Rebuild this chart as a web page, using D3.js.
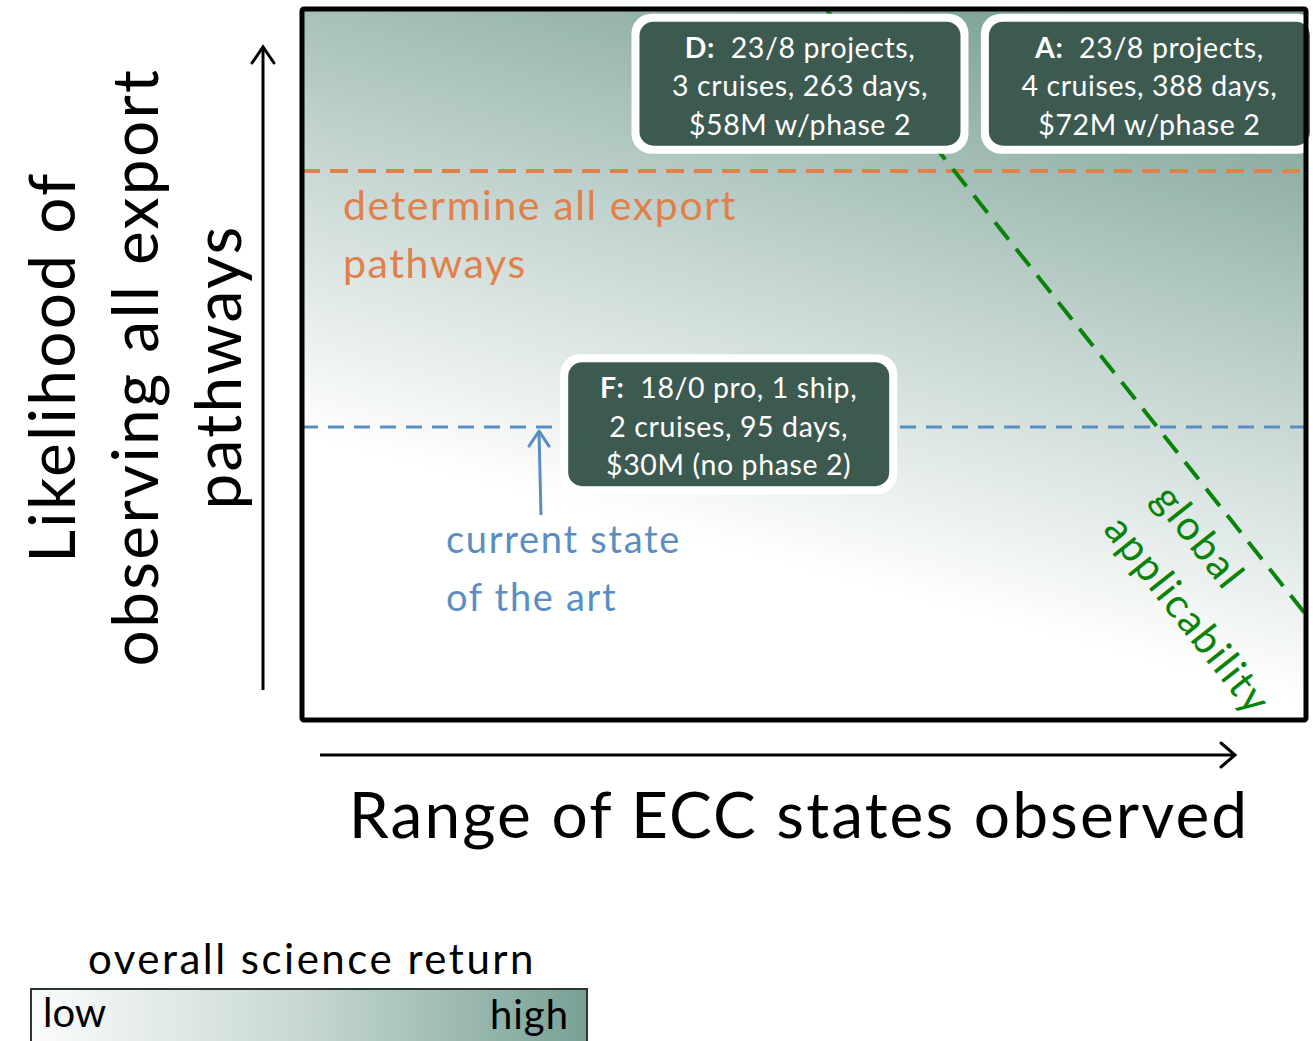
<!DOCTYPE html>
<html><head><meta charset="utf-8">
<script src="https://cdn.jsdelivr.net/npm/d3@7"></script>
<style>body{margin:0;background:#fff;overflow:hidden}</style>
</head><body>
<svg id="chart" width="1313" height="1041"></svg>
<script>
// ---- data ----
const xAxisTitle = "Range of ECC states observed";
const yAxisTitle = ["Likelihood of", "observing all export", "pathways"];
const legendTitle = "overall science return";
const legendEnds = ["low", "high"];

const thresholdNames = [["determine all export", "pathways"], ["current state", "of the art"]];
const thresholdLevels = [77.2, 41.2];           // likelihood level (0-100)

const optionIds = ["D", "A", "F"];
const optionLines = [
  ["23/8 projects,", "3 cruises, 263 days,", "$58M w/phase 2"],
  ["23/8 projects,", "4 cruises, 388 days,", "$72M w/phase 2"],
  ["18/0 pro, 1 ship,", "2 cruises, 95 days,", "$30M (no phase 2)"]
];
const optionRange = [49.6, 84.4, 42.5];          // range of ECC states (0-100)
const optionLikelihood = [89.5, 89.5, 41.6];     // likelihood (0-100)

const globalLineX = [52.2, 100];
const globalLineY = [100, 14.8];
const globalLabel = ["global", "applicability"];

// ---- layout ----
const svg = d3.select("#chart");
const font = "Lato, 'Noto Sans', sans-serif";
const plot = {l: 302, t: 9, r: 1306, b: 720};
const x = d3.scaleLinear().domain([0, 100]).range([plot.l, plot.r]);
const y = d3.scaleLinear().domain([0, 100]).range([plot.b, plot.t]);

const defs = svg.append("defs");
const g1 = defs.append("linearGradient").attr("id", "bg")
  .attr("gradientUnits", "userSpaceOnUse")
  .attr("x1", 302).attr("y1", 436).attr("x2", 468).attr("y2", -186);
g1.append("stop").attr("offset", 0).attr("stop-color", "#ffffff");
g1.append("stop").attr("offset", 0.5).attr("stop-color", "#bccfca");
g1.append("stop").attr("offset", 1).attr("stop-color", "#729b90");

const g2 = defs.append("linearGradient").attr("id", "lg")
  .attr("x1", 0).attr("y1", 0).attr("x2", 1).attr("y2", 0);
g2.append("stop").attr("offset", 0).attr("stop-color", "#fbfcfc");
g2.append("stop").attr("offset", 0.5).attr("stop-color", "#c6d7d2");
g2.append("stop").attr("offset", 1).attr("stop-color", "#78a196");

const clip = defs.append("clipPath").attr("id", "pc");
clip.append("rect").attr("x", plot.l).attr("y", plot.t)
  .attr("width", plot.r - plot.l).attr("height", plot.b - plot.t);

// background
svg.append("rect").attr("x", plot.l).attr("y", plot.t)
  .attr("width", plot.r - plot.l).attr("height", plot.b - plot.t)
  .attr("fill", "url(#bg)");

const pg = svg.append("g").attr("clip-path", "url(#pc)");

// threshold lines
const thrColors = ["#e0804a", "#5a8ec2"];
pg.selectAll("line.thr").data(thresholdLevels).join("line")
  .attr("class", "thr")
  .attr("x1", x(0)).attr("x2", x(100))
  .attr("y1", d => y(d)).attr("y2", d => y(d))
  .attr("stroke", (d, i) => thrColors[i])
  .attr("stroke-width", (d, i) => i === 0 ? 4 : 3)
  .attr("stroke-dasharray", (d, i) => i === 0 ? "18,10" : "16,10");

// global applicability line
pg.append("line")
  .attr("x1", x(globalLineX[0])).attr("y1", y(globalLineY[0]))
  .attr("x2", x(globalLineX[1])).attr("y2", y(globalLineY[1]))
  .attr("stroke", "#0a830a").attr("stroke-width", 4)
  .attr("stroke-dasharray", "22,12");

// threshold labels
const labelPos = [{x: 343, y: 220}, {x: 446, y: 553}];
thresholdNames.forEach((lines, i) => {
  const t = svg.append("text").attr("x", labelPos[i].x).attr("y", labelPos[i].y)
    .attr("font-family", font).attr("font-size", i === 0 ? 41 : 38)
    .attr("letter-spacing", i === 0 ? 1.6 : 1.7)
    .attr("fill", thrColors[i]);
  lines.forEach((ln, j) => t.append("tspan").attr("x", labelPos[i].x)
    .attr("dy", j === 0 ? 0 : 58).text(ln));
});

// arrow to current state
const arrowX = 540;
svg.append("line").attr("x1", arrowX + 1).attr("y1", 515)
  .attr("x2", arrowX - 1).attr("y2", y(thresholdLevels[1]) + 4)
  .attr("stroke", "#5a8ec2").attr("stroke-width", 3);
svg.append("path")
  .attr("d", `M${arrowX - 11},${y(thresholdLevels[1]) + 19} L${arrowX - 1},${y(thresholdLevels[1]) + 4} L${arrowX + 9},${y(thresholdLevels[1]) + 19}`)
  .attr("fill", "none").attr("stroke", "#5a8ec2").attr("stroke-width", 3)
  .attr("stroke-linecap", "round").attr("stroke-linejoin", "round");

// global applicability text
const ang = Math.atan2(y(globalLineY[1]) - y(globalLineY[0]), x(globalLineX[1]) - x(globalLineX[0])) * 180 / Math.PI;
const glPos = [{x: 1199, y: 537}, {x: 1188, y: 615}];
globalLabel.forEach((s, i) => {
  svg.append("text").attr("transform", `translate(${glPos[i].x},${glPos[i].y}) rotate(${ang})`)
    .attr("text-anchor", "middle").attr("dy", "0.35em")
    .attr("font-family", font).attr("font-size", 41).attr("letter-spacing", 2)
    .attr("fill", "#0a830a").text(s);
});

// option boxes
const boxW = 321, boxH = 124;
optionIds.forEach((id, i) => {
  const cx = x(optionRange[i]);
  const cy = y(optionLikelihood[i]);
  const bx = cx - boxW / 2, by = cy - boxH / 2;
  svg.append("rect").attr("x", bx - 8).attr("y", by - 8)
    .attr("width", boxW + 16).attr("height", boxH + 16).attr("rx", 20)
    .attr("fill", "#ffffff");
  svg.append("rect").attr("x", bx).attr("y", by)
    .attr("width", boxW).attr("height", boxH).attr("rx", 14)
    .attr("fill", "#3d5a51");
  const t = svg.append("text").attr("text-anchor", "middle")
    .attr("font-family", font).attr("font-size", 28.5).attr("fill", "#ffffff")
    .attr("letter-spacing", 0.6);
  optionLines[i].forEach((ln, j) => {
    const ts = t.append("tspan").attr("x", cx).attr("y", by + 36 + j * 38.5);
    if (j === 0) {
      ts.append("tspan").attr("font-weight", "bold").text(id + ":");
      ts.append("tspan").text("\u00a0 " + ln);
    } else ts.text(ln);
  });
});

// plot border
svg.append("rect").attr("x", plot.l).attr("y", plot.t)
  .attr("width", plot.r - plot.l).attr("height", plot.b - plot.t)
  .attr("rx", 2).attr("fill", "none").attr("stroke", "#000").attr("stroke-width", 5);

// axes arrows
svg.append("line").attr("x1", 320).attr("y1", 755).attr("x2", 1235).attr("y2", 755)
  .attr("stroke", "#000").attr("stroke-width", 3);
svg.append("path").attr("d", "M1221,743 L1235,755 L1221,767")
  .attr("fill", "none").attr("stroke", "#000").attr("stroke-width", 3).attr("stroke-linecap", "round");
svg.append("line").attr("x1", 263).attr("y1", 690).attr("x2", 263).attr("y2", 47)
  .attr("stroke", "#000").attr("stroke-width", 3);
svg.append("path").attr("d", "M252,63 L263,47 L274,63")
  .attr("fill", "none").attr("stroke", "#000").attr("stroke-width", 3).attr("stroke-linecap", "round");

// axis titles
svg.append("text").attr("x", 799).attr("y", 838).attr("text-anchor", "middle")
  .attr("font-family", font).attr("font-size", 64).attr("letter-spacing", 2.1)
  .attr("fill", "#000").text(xAxisTitle);
const yBase = [75, 158, 241];
yAxisTitle.forEach((s, i) => {
  svg.append("text").attr("transform", `translate(${yBase[i]},367) rotate(-90)`)
    .attr("text-anchor", "middle").attr("font-family", font).attr("font-size", 64)
    .attr("letter-spacing", 2.3).attr("fill", "#000").text(s);
});

// legend
svg.append("text").attr("x", 312).attr("y", 974).attr("text-anchor", "middle")
  .attr("font-family", font).attr("font-size", 42).attr("letter-spacing", 2.5)
  .attr("fill", "#000").text(legendTitle);
svg.append("rect").attr("x", 31).attr("y", 989).attr("width", 556).attr("height", 70)
  .attr("fill", "url(#lg)").attr("stroke", "#2b3632").attr("stroke-width", 2);
svg.append("text").attr("x", 43).attr("y", 1027).attr("font-family", font)
  .attr("font-size", 40).attr("fill", "#000").text(legendEnds[0]);
svg.append("text").attr("x", 569).attr("y", 1029).attr("text-anchor", "end")
  .attr("font-family", font).attr("font-size", 40).attr("letter-spacing", 1).attr("fill", "#000").text(legendEnds[1]);
</script>
</body></html>
